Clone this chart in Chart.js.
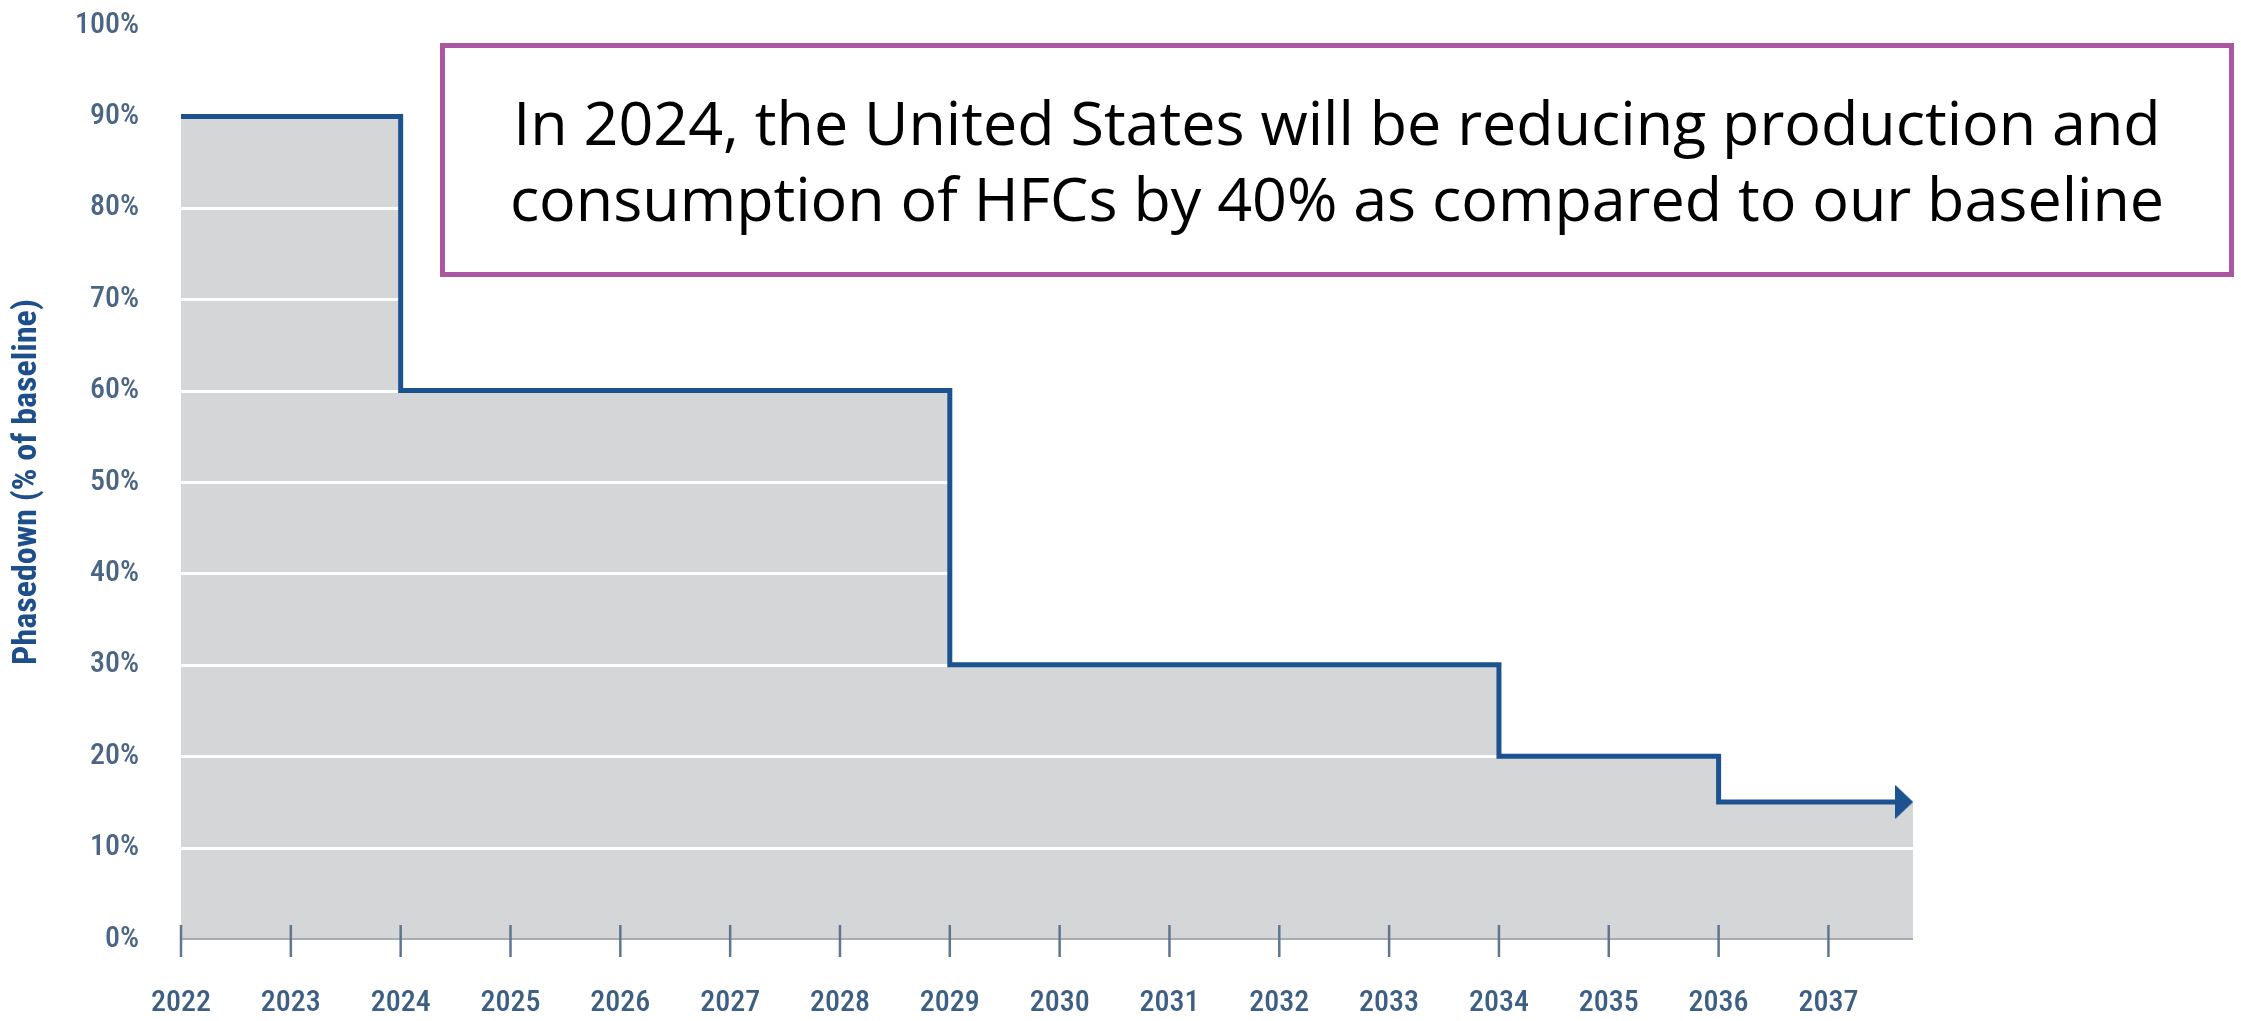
<!DOCTYPE html>
<html>
<head>
<meta charset="utf-8">
<script src="https://cdn.jsdelivr.net/npm/chart.js@4/dist/chart.umd.min.js"></script>
<style>
  html, body { margin: 0; padding: 0; background: #ffffff; }
  #wrap { position: relative; width: 2241px; height: 1021px; overflow: hidden; }
  #chart { position: absolute; left: 0; top: 0; }
  #callout {
    position: absolute; left: 440px; top: 43px; width: 1784px; height: 224px;
    border: 5px solid #ab57a1; background: #ffffff; box-sizing: content-box;
    display: flex; align-items: center; justify-content: center; text-align: center;
    font-family: "Open Sans", "Noto Sans", sans-serif; font-size: 61px; line-height: 76px; color: #000000;
  }
</style>
</head>
<body>
<div id="wrap">
  <canvas id="chart" width="2241" height="1021"></canvas>
  <div id="callout">In 2024, the United States will be reducing production and<br>consumption of HFCs by 40% as compared to our baseline</div>
</div>
<script>
// ---- data ----
const stepYears   = [2022, 2024, 2029, 2034, 2036, 2037.69];   // start of each step, last = arrow point
const stepValues  = [90, 60, 30, 20, 15, 15];                  // phasedown % of baseline
const fillEndYear = 2037.77;                                   // right edge of shaded region
const tickYears   = [2022, 2023, 2024, 2025, 2026, 2027, 2028, 2029, 2030, 2031, 2032, 2033, 2034, 2035, 2036, 2037];
const yTicks      = [0, 10, 20, 30, 40, 50, 60, 70, 80, 90, 100];
const yTitle      = 'Phasedown (% of baseline)';

const lineData = stepYears.map((x, i) => ({ x: x, y: stepValues[i] }));
const fillData = lineData.slice(0, -1).concat([{ x: fillEndYear, y: stepValues[stepValues.length - 1] }]);

// arrow head image for last point
const arrow = document.createElement('canvas');
arrow.width = 18; arrow.height = 34;
(function () {
  const c = arrow.getContext('2d');
  c.fillStyle = '#1d5291';
  c.beginPath(); c.moveTo(0, 0); c.lineTo(18, 17); c.lineTo(0, 34); c.closePath(); c.fill();
})();

const TICK_FONT = 'Roboto, "DejaVu Sans Condensed", sans-serif';

// draws white gridlines over the gray fill, plus the baseline and tick marks
const gridOverFill = {
  id: 'gridOverFill',
  afterDatasetDraw(chart, args) {
    if (args.index !== 0) return;
    const ctx = chart.ctx, area = chart.chartArea;
    const ys = chart.scales.y, xs = chart.scales.x;
    ctx.save();
    ctx.strokeStyle = '#ffffff';
    ctx.lineWidth = 3;
    ys.ticks.forEach(t => {
      if (t.value <= 0 || t.value >= 100) return;
      const y = Math.round(ys.getPixelForValue(t.value)) + 0.5;
      ctx.beginPath(); ctx.moveTo(area.left, y); ctx.lineTo(area.right, y); ctx.stroke();
    });
    // baseline
    const y0 = ys.getPixelForValue(0);
    ctx.strokeStyle = '#a7acb3';
    ctx.lineWidth = 2;
    ctx.beginPath(); ctx.moveTo(area.left, y0); ctx.lineTo(area.right, y0); ctx.stroke();
    // tick marks crossing the baseline
    ctx.strokeStyle = '#5f7590';
    ctx.lineWidth = 2.5;
    xs.ticks.forEach(t => {
      const x = xs.getPixelForValue(t.value);
      ctx.beginPath(); ctx.moveTo(x, y0 - 14); ctx.lineTo(x, y0 + 18); ctx.stroke();
    });
    ctx.restore();
  }
};

const hiddenTicks = len => ({
  display: true, drawOnChartArea: false, drawTicks: true,
  tickLength: len, tickColor: 'rgba(0,0,0,0)', color: 'rgba(0,0,0,0)'
});

new Chart(document.getElementById('chart'), {
  type: 'line',
  data: {
    datasets: [
      {
        label: 'fill',
        data: fillData,
        stepped: 'before',
        fill: 'origin',
        backgroundColor: '#d5d6d8',
        borderWidth: 0,
        pointRadius: 0,
        order: 2
      },
      {
        label: 'Phasedown',
        data: lineData,
        stepped: 'before',
        fill: false,
        borderColor: '#1d5291',
        borderWidth: 5,
        borderJoinStyle: 'miter',
        borderCapStyle: 'butt',
        pointStyle: lineData.map((p, i) => i === lineData.length - 1 ? arrow : false),
        pointRadius: lineData.map((p, i) => i === lineData.length - 1 ? 10 : 0),
        clip: false,
        order: 1
      }
    ]
  },
  options: {
    responsive: false,
    animation: false,
    events: [],
    layout: { padding: { top: 25, right: 328, left: 0, bottom: 0 } },
    plugins: { legend: { display: false }, tooltip: { enabled: false } },
    scales: {
      x: {
        type: 'linear',
        min: tickYears[0],
        max: fillEndYear,
        afterBuildTicks: s => { s.ticks = tickYears.map(v => ({ value: v })); },
        grid: hiddenTicks(43),
        border: { display: false },
        ticks: {
          autoSkip: false,
          maxRotation: 0,
          padding: 3,
          color: '#3d5f84',
          font: { family: TICK_FONT, size: 30, weight: '500 condensed' },
          callback: v => String(v)
        },
        afterFit: s => { s.height = 82; }
      },
      y: {
        min: 0,
        max: 100,
        afterBuildTicks: s => { s.ticks = yTicks.map(v => ({ value: v })); },
        grid: hiddenTicks(39),
        border: { display: false },
        ticks: {
          padding: 3,
          color: '#4b6685',
          font: { family: TICK_FONT, size: 30, weight: '500 condensed' },
          callback: v => v + '%'
        },
        title: {
          display: true,
          text: yTitle,
          color: '#1e4f8a',
          font: { family: TICK_FONT, size: 34, weight: 'bold condensed' },
          padding: { top: 7, bottom: 0 }
        },
        afterFit: s => { s.width = 181; }
      }
    }
  },
  plugins: [gridOverFill]
});
</script>
</body>
</html>
